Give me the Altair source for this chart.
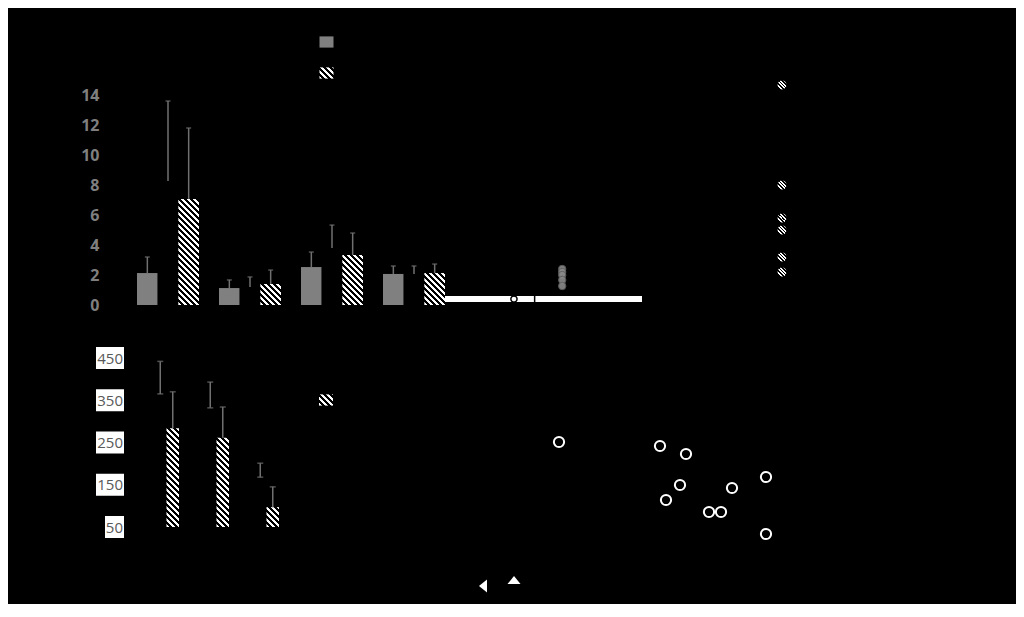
import altair as alt

# ---------------- data ----------------
# Panel A: grouped bars (grey, black, hatched) with upper error bars
A_groups = ["1", "2", "3", "4"]
A_series = ["gray", "black", "hatched"]
A_gray = [2.13, 1.13, 2.53, 2.07]
A_gray_err = [1.07, 0.54, 1.00, 0.53]
A_black = [8.27, 1.20, 3.80, 2.07]
A_black_err = [5.33, 0.67, 1.53, 0.53]
A_hatched = [7.07, 1.40, 3.33, 2.13]
A_hatched_err = [4.73, 0.93, 1.47, 0.60]
A_ticks = [0, 2, 4, 6, 8, 10, 12, 14]

# Panel B: dot plot strip
B_black_x = [7.0]
B_black_y = [0.0]
B_tick_x = [9.1]
B_gray_x = [11.9, 11.9, 11.9, 11.9, 11.9]
B_gray_y = [3.0, 2.7, 2.4, 1.9, 1.3]
B_domain = [0, 20]

# Panel C: grouped bars (black, hatched) starting at 50
C_groups = ["1", "2", "3"]
C_series = ["black", "hatched"]
C_black = [365, 332, 168]
C_black_err = [77, 61, 33]
C_hatched = [284, 261, 97]
C_hatched_err = [86, 73, 48]
C_ticks = [50, 150, 250, 350, 450]

# Panel D: open-circle scatter
D_x = [2.5, 12.6, 15.2, 14.6, 13.2, 17.5, 18.7, 19.8, 23.2, 23.2]
D_y = [11.8, 11.4, 10.6, 7.5, 6.0, 4.8, 4.8, 7.2, 8.3, 2.6]

# Panel E: hatched dots in one column
E_y = [14.67, 8.0, 5.8, 5.0, 3.2, 2.2]

# Panel F: two triangles
F_x = [2.5, 5.6]
F_y = [2.4, 3.0]
F_kind = ["left", "up"]

# ---------------- styles ----------------
GRAY = "#808080"
ERR = "#707070"
LEFT_TRI = "M-0.62,0L0.62,-1L0.62,1Z"
UP_TRI = "M0,-0.62L1,0.62L-1,0.62Z"
LEG_RECT = "M-1,-0.8H1V0.8H-1Z"


def hatch(w, h, period=6.0):
    """Diagonal (\\) white/black stripes as a linear gradient in bbox units."""
    L = w + h
    k = L / (w * w + h * h)
    stops = []
    i = 0
    while i * period < L:
        a = round(i * period / L, 5)
        b = round(min((i + 0.5) * period / L, 1.0), 5)
        c = round(min((i + 1) * period / L, 1.0), 5)
        stops += [
            {"offset": a, "color": "#ffffff"},
            {"offset": b, "color": "#ffffff"},
            {"offset": b, "color": "#000000"},
            {"offset": c, "color": "#000000"},
        ]
        i += 1
    return {"gradient": "linear", "x1": 0, "y1": 1,
            "x2": round(k * w, 5), "y2": round(1 - k * h, 5), "stops": stops}


# ---------------- panel A ----------------
A_RANGE_X = [119, 447]
A_BAR_W = (A_RANGE_X[1] - A_RANGE_X[0]) / 4 * (1 - 0.244) / 3
A_RANGE_Y = [297, 87]
A_PX = (A_RANGE_Y[0] - A_RANGE_Y[1]) / 14

a_vals = {"gray": (A_gray, A_gray_err), "black": (A_black, A_black_err),
          "hatched": (A_hatched, A_hatched_err)}
A_rows = []
for i, g in enumerate(A_groups):
    for s in A_series:
        v, e = a_vals[s][0][i], a_vals[s][1][i]
        if s == "gray":
            f = GRAY
        elif s == "black":
            f = "#000000"
        else:
            f = hatch(A_BAR_W, v * A_PX)
        A_rows.append({"group": g, "series": s, "value": v, "hi": v + e, "fill": f})

a_x = alt.X("group:N", axis=None,
            scale=alt.Scale(domain=A_groups, range=A_RANGE_X, paddingInner=0.244, paddingOuter=0.122))
a_xo = alt.XOffset("series:N", scale=alt.Scale(domain=A_series, paddingInner=0, paddingOuter=0))
a_ys = alt.Scale(domain=[0, 14], range=A_RANGE_Y, nice=False, zero=False)

a_data = alt.Data(values=A_rows)
a_bars = alt.Chart(a_data).mark_bar().encode(
    x=a_x, xOffset=a_xo,
    y=alt.Y("value:Q", scale=a_ys,
            axis=alt.Axis(values=A_ticks, orient="left", offset=-91, ticks=False, tickSize=0,
                          domain=False, grid=False, labelPadding=0, labelColor="#7f7f7f",
                          labelFont="Open Sans", labelFontWeight="bold", labelFontSize=16,
                          labelFlush=False, labelOverlap=False, title=None, zindex=1)),
    y2=alt.datum(0),
    fill=alt.Fill("fill:N", scale=None),
)
a_err = alt.Chart(a_data).mark_rule(color=ERR, strokeWidth=1.5).encode(
    x=a_x, xOffset=a_xo, y=alt.Y("value:Q", scale=a_ys, axis=None), y2="hi:Q")
a_cap = alt.Chart(a_data).mark_tick(color=ERR, orient="horizontal", size=5, thickness=1.5).encode(
    x=a_x, xOffset=a_xo, y=alt.Y("hi:Q", scale=a_ys, axis=None))

A_leg_rows = [{"series": "gray", "fill": GRAY},
              {"series": "black", "fill": "#000000"},
              {"series": "hatched", "fill": hatch(14, 11.2)}]
a_leg = alt.Chart(alt.Data(values=A_leg_rows)).mark_point(
    shape=LEG_RECT, filled=True, size=196, strokeWidth=0, opacity=1).encode(
    x=alt.value(318.5),
    y=alt.Y("series:N", axis=None,
            scale=alt.Scale(type="point", domain=A_series, range=[34, 65], padding=0)),
    fill=alt.Fill("fill:N", scale=None),
)

# ---------------- panel B ----------------
b_xs = alt.Scale(domain=B_domain, range=[437, 634], nice=False, zero=False)
b_ys = alt.Scale(domain=[0, 4], range=[291, 251], nice=False, zero=False)
b_band = alt.Chart(alt.Data(values=[{"x0": B_domain[0], "x1": B_domain[1], "y": 0}])).mark_rule(
    color="white", strokeWidth=6).encode(
    x=alt.X("x0:Q", scale=b_xs, axis=None), x2="x1:Q",
    y=alt.Y("y:Q", scale=b_ys, axis=None))
b_black = alt.Chart(alt.Data(values=[{"x": x, "y": y} for x, y in zip(B_black_x, B_black_y)])).mark_point(
    shape="circle", filled=False, stroke="black", strokeWidth=1.5, size=38, opacity=1).encode(
    x=alt.X("x:Q", scale=b_xs, axis=None), y=alt.Y("y:Q", scale=b_ys, axis=None))
b_tick = alt.Chart(alt.Data(values=[{"x": x, "y": 0} for x in B_tick_x])).mark_tick(
    orient="vertical", color="black", size=6, thickness=1.5, opacity=1).encode(
    x=alt.X("x:Q", scale=b_xs, axis=None), y=alt.Y("y:Q", scale=b_ys, axis=None))
b_gray = alt.Chart(alt.Data(values=[{"x": x, "y": y} for x, y in zip(B_gray_x, B_gray_y)])).mark_point(
    shape="circle", filled=True, fill="#8a8a8a", stroke="#5f5f5f", strokeWidth=1, size=55, opacity=0.9).encode(
    x=alt.X("x:Q", scale=b_xs, axis=None), y=alt.Y("y:Q", scale=b_ys, axis=None))

# ---------------- panel C ----------------
C_RANGE_X = [133.5, 283.5]
C_BAR_W = (C_RANGE_X[1] - C_RANGE_X[0]) / 3 * 0.5 / 2
C_RANGE_Y = [519, 350]
C_PX = (C_RANGE_Y[0] - C_RANGE_Y[1]) / 400

c_vals = {"black": (C_black, C_black_err), "hatched": (C_hatched, C_hatched_err)}
C_rows = []
for i, g in enumerate(C_groups):
    for s in C_series:
        v, e = c_vals[s][0][i], c_vals[s][1][i]
        f = "#000000" if s == "black" else hatch(C_BAR_W, (v - 50) * C_PX)
        C_rows.append({"group": g, "series": s, "value": v, "hi": v + e, "fill": f})

c_x = alt.X("group:N", axis=None,
            scale=alt.Scale(domain=C_groups, range=C_RANGE_X, paddingInner=0.5, paddingOuter=0.25))
c_xo = alt.XOffset("series:N", scale=alt.Scale(domain=C_series, paddingInner=0, paddingOuter=0))
c_ys = alt.Scale(domain=[50, 450], range=C_RANGE_Y, nice=False, zero=False)
c_data = alt.Data(values=C_rows)

c_tick_rows = [{"v": t} for t in C_ticks]
c_box3 = alt.Chart(alt.Data(values=c_tick_rows)).transform_filter("datum.v >= 100").mark_rule(
    color="white", strokeWidth=22).encode(
    x=alt.value(88), x2=alt.value(116), y=alt.Y("v:Q", scale=c_ys, axis=None))
c_box2 = alt.Chart(alt.Data(values=c_tick_rows)).transform_filter("datum.v < 100").mark_rule(
    color="white", strokeWidth=22).encode(
    x=alt.value(97), x2=alt.value(116), y=alt.Y("v:Q", scale=c_ys, axis=None))

c_bars = alt.Chart(c_data).mark_bar().encode(
    x=c_x, xOffset=c_xo,
    y=alt.Y("value:Q", scale=c_ys,
            axis=alt.Axis(values=C_ticks, orient="left", offset=-114.5, ticks=False, tickSize=0,
                          domain=False, grid=False, labelPadding=0, labelColor="#595959",
                          labelFont="Open Sans", labelFontSize=15, labelFlush=False,
                          labelOverlap=False, title=None, zindex=1)),
    y2=alt.datum(50),
    fill=alt.Fill("fill:N", scale=None),
)
c_err = alt.Chart(c_data).mark_rule(color=ERR, strokeWidth=1.5).encode(
    x=c_x, xOffset=c_xo, y=alt.Y("value:Q", scale=c_ys, axis=None), y2="hi:Q")
c_cap = alt.Chart(c_data).mark_tick(color=ERR, orient="horizontal", size=6, thickness=1.5).encode(
    x=c_x, xOffset=c_xo, y=alt.Y("hi:Q", scale=c_ys, axis=None))
c_cap_lo = alt.Chart(c_data).transform_filter("datum.series == 'black'").mark_tick(
    color=ERR, orient="horizontal", size=6, thickness=1.5).encode(
    x=c_x, xOffset=c_xo, y=alt.Y("value:Q", scale=c_ys, axis=None))

C_leg_rows = [{"series": "black", "fill": "#000000"},
              {"series": "hatched", "fill": hatch(14, 11.2)}]
c_leg = alt.Chart(alt.Data(values=C_leg_rows)).mark_point(
    shape=LEG_RECT, filled=True, size=196, strokeWidth=0, opacity=1).encode(
    x=alt.value(318),
    y=alt.Y("series:N", axis=None,
            scale=alt.Scale(type="point", domain=C_series, range=[377, 392], padding=0)),
    fill=alt.Fill("fill:N", scale=None),
)

# ---------------- panel D ----------------
d_xs = alt.Scale(domain=[0, 25], range=[526, 776], nice=False, zero=False)
d_ys = alt.Scale(domain=[0, 12], range=[552, 432], nice=False, zero=False)
d_pts = alt.Chart(alt.Data(values=[{"x": x, "y": y} for x, y in zip(D_x, D_y)])).mark_point(
    shape="circle", filled=False, stroke="white", strokeWidth=2, size=105, opacity=1).encode(
    x=alt.X("x:Q", scale=d_xs, axis=None), y=alt.Y("y:Q", scale=d_ys, axis=None))

# ---------------- panel E ----------------
E_fill = hatch(10, 10, period=4.0)
e_pts = alt.Chart(alt.Data(values=[{"col": "E", "v": v, "fill": E_fill} for v in E_y])).mark_point(
    shape="circle", filled=True, size=79, strokeWidth=0, opacity=1).encode(
    x=alt.X("col:N", axis=None,
            scale=alt.Scale(type="point", domain=["E"], range=[764, 784], padding=0.5)),
    y=alt.Y("v:Q", scale=a_ys, axis=None),
    fill=alt.Fill("fill:N", scale=None),
)

# ---------------- panel F ----------------
f_xs = alt.Scale(domain=[0, 10], range=[450, 550], nice=False, zero=False)
f_ys = alt.Scale(domain=[0, 10], range=[602, 502], nice=False, zero=False)
f_pts = alt.Chart(alt.Data(values=[{"x": x, "y": y, "k": k} for x, y, k in zip(F_x, F_y, F_kind)])).mark_point(
    filled=True, color="white", size=169, strokeWidth=0, opacity=1).encode(
    x=alt.X("x:Q", scale=f_xs, axis=None), y=alt.Y("y:Q", scale=f_ys, axis=None),
    shape=alt.Shape("k:N", scale=alt.Scale(domain=["left", "up"], range=[LEFT_TRI, UP_TRI]), legend=None),
)

chart = alt.layer(
    a_bars, a_err, a_cap, a_leg,
    b_band, b_black, b_tick, b_gray,
    c_box3, c_box2, c_bars, c_err, c_cap, c_cap_lo, c_leg,
    d_pts, e_pts, f_pts,
).resolve_scale(
    x="independent", y="independent", xOffset="independent"
).properties(
    width=1008, height=596, background="black", padding=0,
    autosize=alt.AutoSizeParams(type="none"),
).configure_view(stroke=None)

chart.save("out.html", embed_options={"renderer": "svg", "actions": False})
